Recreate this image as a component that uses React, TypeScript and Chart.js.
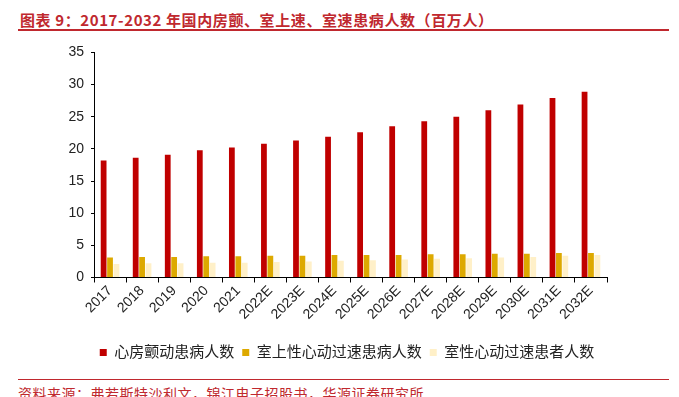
import React, { useEffect, useRef } from "react";
import { Chart, registerables } from "chart.js";

Chart.register(...registerables);

const categories = ["2017", "2018", "2019", "2020", "2021", "2022E", "2023E", "2024E", "2025E", "2026E", "2027E", "2028E", "2029E", "2030E", "2031E", "2032E"];
const afPatients = [18.2, 18.6, 19.1, 19.8, 20.2, 20.8, 21.3, 21.9, 22.6, 23.5, 24.3, 25.0, 26.0, 26.9, 27.9, 28.9];
const svtPatients = [3.1, 3.2, 3.2, 3.3, 3.3, 3.4, 3.4, 3.5, 3.5, 3.5, 3.6, 3.6, 3.7, 3.7, 3.8, 3.8];
const vtPatients = [2.1, 2.2, 2.2, 2.3, 2.3, 2.4, 2.5, 2.6, 2.7, 2.8, 2.9, 3.0, 3.1, 3.2, 3.4, 3.5];
const seriesNames = ["心房颤动患病人数", "室上性心动过速患病人数", "室性心动过速患者人数"];
const yTicks = [0, 5, 10, 15, 20, 25, 30, 35];

const FONT = "'Liberation Sans', Arial, 'Noto Sans CJK SC', sans-serif";

const shiftLegend = {
  id: "shiftLegend",
  afterLayout(chart: any) {
    const l = chart.legend;
    if (!l) return;
    l.left += 13;
    l.right += 13;
  },
};

export default function App() {
  const ref = useRef<HTMLCanvasElement | null>(null);

  useEffect(() => {
    if (!ref.current) return;
    const chart = new Chart(ref.current, {
      type: "bar",
      data: {
        labels: categories,
        datasets: [
          { label: seriesNames[0], data: afPatients, backgroundColor: "#C00000", borderWidth: 0 },
          { label: seriesNames[1], data: svtPatients, backgroundColor: "#DDA900", borderWidth: 0 },
          { label: seriesNames[2], data: vtPatients, backgroundColor: "#FFF0C8", borderWidth: 0 },
        ],
      },
      plugins: [shiftLegend],
      options: {
        animation: false,
        responsive: false,
        maintainAspectRatio: false,
        datasets: { bar: { categoryPercentage: 0.6, barPercentage: 0.9 } },
        layout: { padding: { top: 0, right: 72, left: 61, bottom: 0 } },
        plugins: {
          tooltip: { enabled: false },
          legend: {
            position: "bottom",
            labels: {
              usePointStyle: true,
              pointStyle: "rect",
              boxWidth: 7,
              boxHeight: 7,
              padding: 8,
              color: "#222",
              font: { family: FONT, size: 15 },
            },
          },
        },
        scales: {
          x: {
            afterFit: (scale: any) => {
              scale.height += 14;
            },
            grid: { display: true, drawOnChartArea: false, drawTicks: true, tickLength: 5, color: "#000", offset: true },
            border: { display: true, color: "#000", width: 1 },
            ticks: {
              color: "#222",
              maxRotation: 45,
              minRotation: 45,
              autoSkip: false,
              font: { family: FONT, size: 14 },
              padding: 0,
            },
          },
          y: {
            min: 0,
            max: 35,
            afterBuildTicks: (axis: any) => {
              axis.ticks = yTicks.map((v) => ({ value: v }));
            },
            afterFit: (scale: any) => {
              scale.width = 33;
            },
            grid: { display: true, drawOnChartArea: false, drawTicks: true, tickLength: 3, color: "#000" },
            border: { display: true, color: "#000", width: 1 },
            ticks: {
              color: "#222",
              font: { family: FONT, size: 14 },
              padding: 7,
            },
          },
        },
      },
    });
    return () => chart.destroy();
  }, []);

  return (
    <div style={{ position: "fixed", left: 0, top: 0, width: 679, height: 397, background: "#fff", overflow: "hidden" }}>
      <div
        style={{
          position: "absolute",
          left: 20,
          top: 12,
          fontFamily: "'Noto Sans CJK SC', sans-serif",
          fontWeight: 700,
          fontSize: 15,
          lineHeight: "15px",
          letterSpacing: 0.6,
          color: "#C0282E",
          whiteSpace: "nowrap",
        }}
      >
        图表 9：2017-2032 年国内房颤、室上速、室速患病人数（百万人）
      </div>
      <div style={{ position: "absolute", left: 18, top: 29, width: 651, height: 2, background: "#C0282E" }} />
      <canvas ref={ref} width={679} height={333} style={{ position: "absolute", left: 0, top: 37, width: 679, height: 333 }} />
      <div style={{ position: "absolute", left: 18, top: 378.5, width: 651, height: 1.5, background: "#C0282E" }} />
      <div
        style={{
          position: "absolute",
          left: 18,
          top: 386,
          fontFamily: "'Noto Sans CJK SC', sans-serif",
          fontSize: 14,
          lineHeight: "14px",
          letterSpacing: 0.5,
          color: "#C0282E",
          whiteSpace: "nowrap",
        }}
      >
        资料来源：弗若斯特沙利文，锦江电子招股书，华源证券研究所
      </div>
    </div>
  );
}
